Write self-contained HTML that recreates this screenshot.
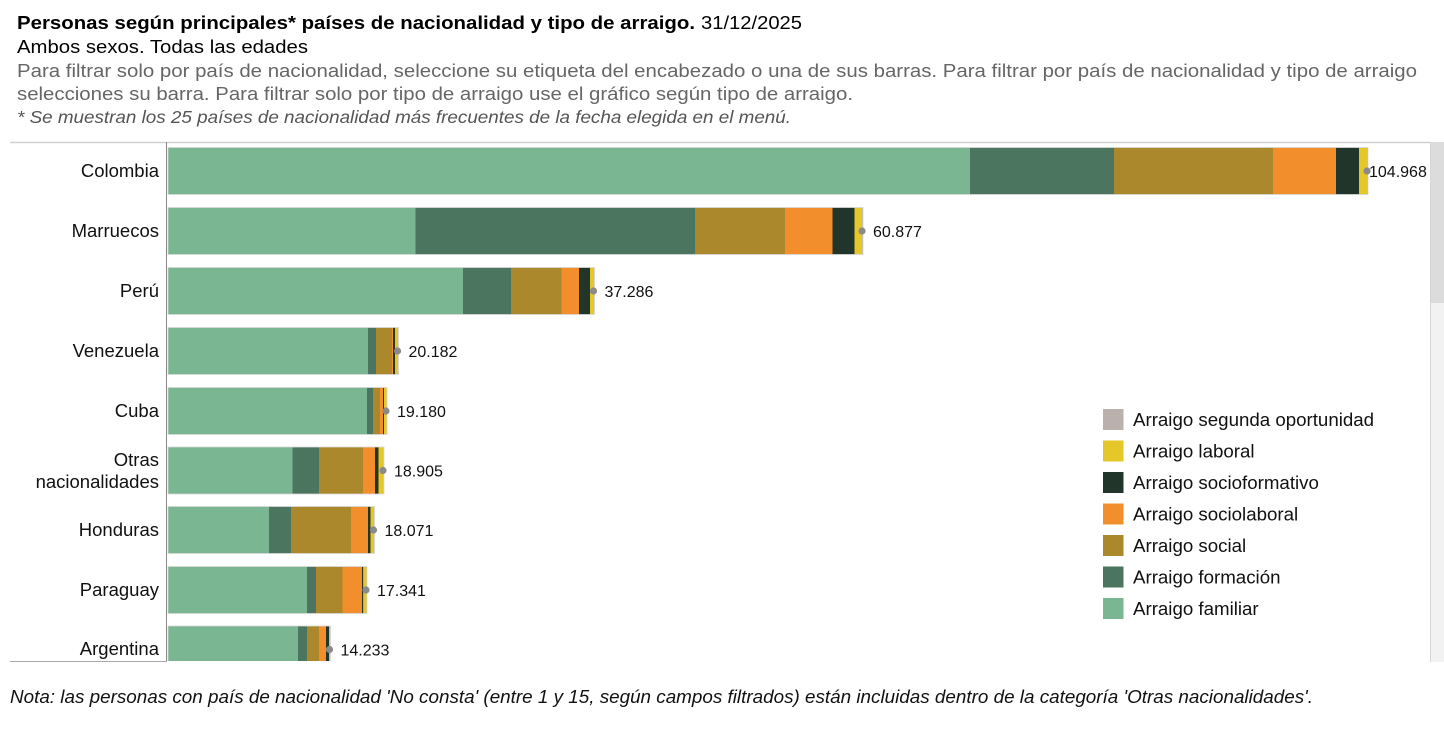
<!DOCTYPE html>
<html><head><meta charset="utf-8"><style>
html,body{margin:0;padding:0;background:#fff;}
svg{display:block;font-family:"Liberation Sans",Arial,sans-serif;}
</style></head><body>
<svg width="1444" height="735" viewBox="0 0 1444 735" xmlns="http://www.w3.org/2000/svg">
<defs><clipPath id="plot"><rect x="0" y="143" width="1430" height="518"/></clipPath></defs>
<rect width="1444" height="735" fill="#fff"/>
<text x="17" y="29" font-size="18" font-weight="bold" fill="#000" textLength="678" lengthAdjust="spacingAndGlyphs">Personas según principales* países de nacionalidad y tipo de arraigo.</text>
<text x="701" y="29" font-size="18" fill="#000" textLength="101" lengthAdjust="spacingAndGlyphs">31/12/2025</text>
<text x="17" y="53" font-size="18" fill="#000" textLength="291" lengthAdjust="spacingAndGlyphs">Ambos sexos. Todas las edades</text>
<text x="17" y="77" font-size="18" fill="#666" textLength="1400" lengthAdjust="spacingAndGlyphs">Para filtrar solo por país de nacionalidad, seleccione su etiqueta del encabezado o una de sus barras. Para filtrar por país de nacionalidad y tipo de arraigo</text>
<text x="17" y="100" font-size="18" fill="#666" textLength="836" lengthAdjust="spacingAndGlyphs">selecciones su barra. Para filtrar solo por tipo de arraigo use el gráfico según tipo de arraigo.</text>
<text x="17" y="123" font-size="17.5" font-style="italic" fill="#555" textLength="774" lengthAdjust="spacingAndGlyphs">* Se muestran los 25 países de nacionalidad más frecuentes de la fecha elegida en el menú.</text>

<!-- frame -->
<line x1="10" y1="142.5" x2="1431" y2="142.5" stroke="#d0d0d0" stroke-width="1.5"/>
<rect x="1431" y="142" width="13" height="520" fill="#f2f2f2"/>
<rect x="1431" y="142" width="13" height="161" fill="#dcdcdc"/>
<line x1="1430.5" y1="142" x2="1430.5" y2="662" stroke="#d6d6d6" stroke-width="1"/>

<g clip-path="url(#plot)" id="bars"></g>

<line x1="166.5" y1="142" x2="166.5" y2="662" stroke="#888" stroke-width="1"/>
<line x1="10" y1="661.5" x2="167" y2="661.5" stroke="#aaa" stroke-width="1"/>

<g font-size="18.5" fill="#111" text-anchor="end">
<text x="159" y="177">Colombia</text>
<text x="159" y="237">Marruecos</text>
<text x="159" y="297">Perú</text>
<text x="159" y="357">Venezuela</text>
<text x="159" y="417">Cuba</text>
<text x="159" y="466">Otras</text>
<text x="159" y="488">nacionalidades</text>
<text x="159" y="536">Honduras</text>
<text x="159" y="596">Paraguay</text>
<text x="159" y="655">Argentina</text>
</g>

<g font-size="18.7" fill="#111">
<rect x="1103" y="409" width="20.5" height="21" fill="#bab0ac"/><text x="1133" y="426">Arraigo segunda oportunidad</text>
<rect x="1103" y="440.5" width="20.5" height="21" fill="#e6c72a"/><text x="1133" y="457.5">Arraigo laboral</text>
<rect x="1103" y="472" width="20.5" height="21" fill="#22352a"/><text x="1133" y="489">Arraigo socioformativo</text>
<rect x="1103" y="503.5" width="20.5" height="21" fill="#f28e2b"/><text x="1133" y="520.5">Arraigo sociolaboral</text>
<rect x="1103" y="535" width="20.5" height="21" fill="#ab882c"/><text x="1133" y="552">Arraigo social</text>
<rect x="1103" y="566.5" width="20.5" height="21" fill="#4c7560"/><text x="1133" y="583.5">Arraigo formación</text>
<rect x="1103" y="598" width="20.5" height="21" fill="#79b691"/><text x="1133" y="615">Arraigo familiar</text>
</g>

<text x="10" y="703" font-size="18" font-style="italic" fill="#111" textLength="1303" lengthAdjust="spacingAndGlyphs">Nota: las personas con país de nacionalidad 'No consta' (entre 1 y 15, según campos filtrados) están incluidas dentro de la categoría 'Otras nacionalidades'.</text>

<g id="labels" font-size="16" fill="#111"></g>
</svg>
<script>
(function(){
var ns="http://www.w3.org/2000/svg";
var cols=["#79b691","#4c7560","#ab882c","#f28e2b","#22352a","#e6c72a","#bab0ac"];
var rows=[
[171,[168,970,1114,1273,1336,1359,1367,1368],"104.968"],
[231,[168,415.5,695,785,832.5,854.5,862,863],"60.877"],
[291,[168,463,511,561.5,579,590,594,594.5],"37.286"],
[351,[168,368,376,392,393,395,398,398.5],"20.182"],
[411,[168,367,373,380,383,384,386.5,387],"19.180"],
[470.5,[168,292.5,319,363,375,378.5,383.5,384],"18.905"],
[530,[168,269,291,351,368,370.5,374,374.5],"18.071"],
[590,[168,307,316,342.5,362,363.3,366.5,367],"17.341"],
[649.5,[168,298,307,319,326,329,330,330.5],"14.233"]
];
var g=document.getElementById("bars"),lg=document.getElementById("labels");
rows.forEach(function(r){
 var c=r[0],b=r[1];
 for(var i=0;i<7;i++){
  var w=b[i+1]-b[i]; if(w<=0)continue;
  var e=document.createElementNS(ns,"rect");
  e.setAttribute("x",b[i]);e.setAttribute("y",c-23.5);
  e.setAttribute("width",w);e.setAttribute("height",47);
  e.setAttribute("fill",cols[i]);g.appendChild(e);
 }
 var o=document.createElementNS(ns,"rect");
 o.setAttribute("x",168);o.setAttribute("y",c-23.5);o.setAttribute("width",b[7]-168);o.setAttribute("height",47);
 o.setAttribute("fill","none");o.setAttribute("stroke","#d8d8d8");o.setAttribute("stroke-width","0.8");g.appendChild(o);
 var d=document.createElementNS(ns,"circle");
 var dx=b[7]-1;
 d.setAttribute("cx",dx);d.setAttribute("cy",c);d.setAttribute("r",3.6);d.setAttribute("fill","#8a8a8a");
 lg.appendChild(d);
 var t=document.createElementNS(ns,"text");
 t.setAttribute("x", r[2]==="104.968"?1369:dx+11);t.setAttribute("y",c+6);t.textContent=r[2];
 lg.appendChild(t);
});
})();
</script>
</body></html>
